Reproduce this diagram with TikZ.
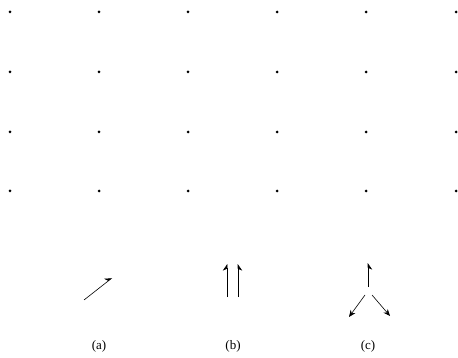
\documentclass[tikz,border=0pt]{standalone}
\usepackage{fontspec}
\setmainfont{Liberation Serif}
\usetikzlibrary{arrows.meta}
\tikzset{
  site/.style={circle,fill=black,inner sep=0pt,minimum size=3pt},
  spin/.style={-{Stealth[harpoon,length=2.2mm,width=3mm]},line width=0.6pt},
  spinr/.style={-{Stealth[harpoon,swap,length=2.2mm,width=3mm]},line width=0.6pt},
  spinf/.style={-{Stealth[length=2.4mm,width=2mm]},line width=0.6pt},
  caption/.style={font=\fontsize{13}{15}\selectfont,inner sep=1pt},
}

\begin{document}
\begin{tikzpicture}[x=1pt,y=-1pt]
  \useasboundingbox (0,0) rectangle (458,358);
  % lattice sites
  \foreach \i/\x in {1/10,2/99,3/188,4/277,5/366,6/456}
    \foreach \j/\y in {1/12,2/72,3/132,4/191}
      \node[site] (s\i\j) at (\x,\y) {};
  % (a) single spin
  \coordinate (a0) at (84,300);
  \coordinate (a1) at (112,278);
  \draw[spin] (a0) -- (a1);
  \node[caption] (la) at (99,346) {(a)};
  % (b) parallel pair
  \coordinate (b0) at (227,297);
  \coordinate (b1) at (227,264);
  \coordinate (c0) at (238,297);
  \coordinate (c1) at (238,264);
  \draw[spin] (b0) -- (b1);
  \draw[spinr] (c0) -- (c1);
  \node[caption] (lb) at (233,346) {(b)};
  % (c) split
  \coordinate (d0) at (368,287);
  \coordinate (d1) at (368,263);
  \coordinate (e0) at (365,295);
  \coordinate (e1) at (349,317);
  \coordinate (f0) at (372,295);
  \coordinate (f1) at (390,316);
  \draw[spinr] (d0) -- (d1);
  \draw[spinf] (e0) -- (e1);
  \draw[spinf] (f0) -- (f1);
  \node[caption] (lc) at (368,346) {(c)};
\end{tikzpicture}
\end{document}
